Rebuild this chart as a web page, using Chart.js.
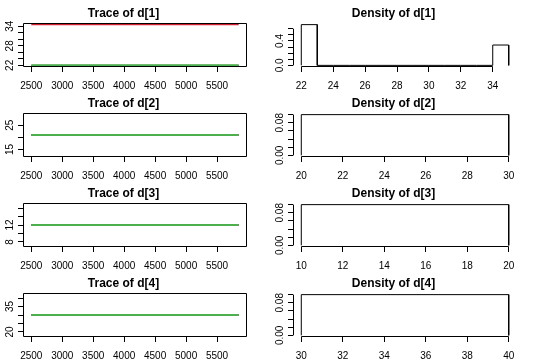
<!DOCTYPE html>
<html>
<head>
<meta charset="utf-8">
<script src="https://cdn.jsdelivr.net/npm/chart.js@4.4.0/dist/chart.umd.min.js"></script>
<style>
  html, body { margin: 0; padding: 0; background: #fff; }
  #wrap { position: relative; width: 540px; height: 360px; }
  #wrap canvas { position: absolute; }
</style>
</head>
<body>
<div id="wrap"></div>
<script>
// first and last iteration kept in the trace plots
var iterations = [2500, 5850];

// chain values at those iterations (chain 1 black, chain 2 red, chain 3 green)
var d1Chains = [[22, 22], [34.5, 34.5], [22, 22]];
var d2Chains = [[21, 21], [21, 21], [21, 21]];
var d3Chains = [[12, 12], [12, 12], [12, 12]];
var d4Chains = [[30, 30], [30, 30], [30, 30]];

// histogram breaks / densities shown in the density panels
var d1Breaks = [22, 23, 24, 25, 26, 27, 28, 29, 30, 31, 32, 33, 34, 35];
var d1Density = [0.667, 0, 0, 0, 0, 0, 0, 0, 0, 0, 0, 0, 0.333];
var d2Breaks = [20, 30];
var d2Density = [0.1];
var d3Breaks = [10, 20];
var d3Density = [0.1];
var d4Breaks = [30, 40];
var d4Density = [0.1];

// ticks and the labels R actually printed
var traceXTicks = [2500, 3000, 3500, 4000, 4500, 5000, 5500];
var d1YTicks = [22, 24, 26, 28, 30, 32, 34];
var d1YLabels = [22, 28, 34];
var d2YTicks = [15, 20, 25];
var d2YLabels = [15, 25];
var d3YTicks = [8, 10, 12, 14, 16];
var d3YLabels = [8, 12];
var d4YTicks = [20, 25, 30, 35, 40];
var d4YLabels = [20, 35];

var d1DensXTicks = [22, 24, 26, 28, 30, 32, 34];
var d2DensXTicks = [20, 22, 24, 26, 28, 30];
var d3DensXTicks = [10, 12, 14, 16, 18, 20];
var d4DensXTicks = [30, 32, 34, 36, 38, 40];
var d1DensYTicks = [0, 0.1, 0.2, 0.3, 0.4, 0.5, 0.6];
var d1DensYLabels = [0, 0.4];
var densYTicks = [0, 0.02, 0.04, 0.06, 0.08, 0.1];
var densYLabels = [0, 0.08];

var chainColors = ['#000000', '#d02030', '#4cb04c'];
var chainWidths = [1, 1.2, 2];
var FONT = "'Liberation Sans', Arial, sans-serif";

Chart.defaults.font.family = FONT;
Chart.defaults.color = '#000';

// R style range: constant -> +-40%, then 4% each side
function rRange(lo, hi) {
    if (lo === hi) {
        var w = lo === 0 ? 1 : Math.abs(lo) * 0.4;
        lo -= w; hi += w;
    }
    var d = (hi - lo) * 0.04;
    return [lo - d, hi + d];
}

function plain(v) { return String(v); }
function fix1(v) { return v.toFixed(1); }
function fix2(v) { return v.toFixed(2); }

function yPad(labels, fmt) {
    var c = document.createElement('canvas').getContext('2d');
    c.font = '10px ' + FONT;
    var w = 0;
    labels.forEach(function (v) { w = Math.max(w, c.measureText(fmt(v)).width); });
    return 8 - w / 2;
}

function axis(horizontal, range, ticks, labels, fmt) {
    var s = {
        type: 'linear',
        min: range[0],
        max: range[1],
        border: { display: false },
        grid: { drawOnChartArea: false, drawTicks: true, tickLength: 5, color: '#000', lineWidth: 1 },
        afterBuildTicks: function (sc) {
            sc.ticks = ticks.map(function (v) { return { value: v }; });
        },
        ticks: {
            autoSkip: false,
            font: { size: 10 },
            color: '#000',
            callback: function (v) { return labels.indexOf(v) >= 0 ? fmt(v) : ''; }
        }
    };
    if (horizontal) {
        s.ticks.padding = 8;
        s.ticks.maxRotation = 0;
        s.afterFit = function (sc) { sc.height = 23; sc.paddingLeft = 0; sc.paddingRight = 0; };
    } else {
        s.ticks.minRotation = 90;
        s.ticks.maxRotation = 90;
        s.ticks.crossAlign = 'center';
        s.ticks.padding = yPad(labels, fmt);
        s.afterFit = function (sc) { sc.width = 23; sc.paddingTop = 0; sc.paddingBottom = 0; };
    }
    return s;
}

// box for trace plots, axis lines (first to last tick) for histograms
var rFrame = {
    id: 'rFrame',
    afterDraw: function (chart, args, opts) {
        var a = chart.chartArea, ctx = chart.ctx;
        ctx.save();
        ctx.strokeStyle = '#000';
        ctx.lineWidth = 1;
        ctx.beginPath();
        if (opts.box) {
            ctx.rect(a.left + 0.5, a.top + 0.5, a.right - a.left - 1, a.bottom - a.top - 1);
        } else {
            var xs = chart.scales.x, ys = chart.scales.y;
            var xt = xs.ticks, yt = ys.ticks;
            var by = Math.round(a.bottom) - 0.5, lx = Math.round(a.left) + 0.5;
            ctx.moveTo(xs.getPixelForValue(xt[0].value), by);
            ctx.lineTo(xs.getPixelForValue(xt[xt.length - 1].value), by);
            ctx.moveTo(lx, ys.getPixelForValue(yt[0].value));
            ctx.lineTo(lx, ys.getPixelForValue(yt[yt.length - 1].value));
        }
        ctx.stroke();
        ctx.restore();
    }
};

var wrap = document.getElementById('wrap');

function panel(col, row, title, datasets, xAxis, yAxis, box) {
    var cv = document.createElement('canvas');
    cv.width = 270;
    cv.height = 90;
    cv.style.left = (col * 270) + 'px';
    cv.style.top = (row * 90) + 'px';
    wrap.appendChild(cv);
    new Chart(cv.getContext('2d'), {
        type: 'line',
        data: { datasets: datasets },
        options: {
            responsive: false,
            animation: false,
            devicePixelRatio: 1,
            events: [],
            layout: { padding: { left: 0, right: 23, top: 0, bottom: 0 } },
            scales: { x: xAxis, y: yAxis },
            plugins: {
                legend: { display: false },
                tooltip: { enabled: false },
                title: {
                    display: true,
                    text: title,
                    color: '#000',
                    font: { size: 12, weight: 'bold' },
                    padding: { top: 6, bottom: 2.6 }
                },
                rFrame: { box: box }
            }
        },
        plugins: [rFrame]
    });
}

function traceSets(chains) {
    return chains.map(function (vals, c) {
        return {
            data: iterations.map(function (it, i) { return { x: it, y: vals[i] }; }),
            borderColor: chainColors[c],
            borderWidth: chainWidths[c],
            pointRadius: 0,
            fill: false,
            order: chains.length - 1 - c
        };
    });
}

function histSet(breaks, dens) {
    var pts = [];
    dens.forEach(function (d, i) {
        pts.push({ x: breaks[i], y: 0 }, { x: breaks[i], y: d },
                 { x: breaks[i + 1], y: d }, { x: breaks[i + 1], y: 0 });
    });
    return [{ data: pts, borderColor: '#000', borderWidth: 1, pointRadius: 0, fill: false }];
}

function chainRange(chains) {
    var all = [].concat.apply([], chains);
    return rRange(Math.min.apply(null, all), Math.max.apply(null, all));
}

var traceX = rRange(iterations[0], iterations[iterations.length - 1]);

var traces = [
    ['Trace of d[1]', d1Chains, d1YTicks, d1YLabels],
    ['Trace of d[2]', d2Chains, d2YTicks, d2YLabels],
    ['Trace of d[3]', d3Chains, d3YTicks, d3YLabels],
    ['Trace of d[4]', d4Chains, d4YTicks, d4YLabels]
];
traces.forEach(function (t, r) {
    panel(0, r, t[0], traceSets(t[1]),
          axis(true, traceX, traceXTicks, traceXTicks, plain),
          axis(false, chainRange(t[1]), t[2], t[3], plain), true);
});

var dens = [
    ['Density of d[1]', d1Breaks, d1Density, d1DensXTicks, d1DensYTicks, d1DensYLabels, fix1],
    ['Density of d[2]', d2Breaks, d2Density, d2DensXTicks, densYTicks, densYLabels, fix2],
    ['Density of d[3]', d3Breaks, d3Density, d3DensXTicks, densYTicks, densYLabels, fix2],
    ['Density of d[4]', d4Breaks, d4Density, d4DensXTicks, densYTicks, densYLabels, fix2]
];
dens.forEach(function (d, r) {
    var b = d[1];
    panel(1, r, d[0], histSet(b, d[2]),
          axis(true, rRange(b[0], b[b.length - 1]), d[3], d[3], plain),
          axis(false, rRange(0, Math.max.apply(null, d[2])), d[4], d[5], d[6]), false);
});
</script>
</body>
</html>
